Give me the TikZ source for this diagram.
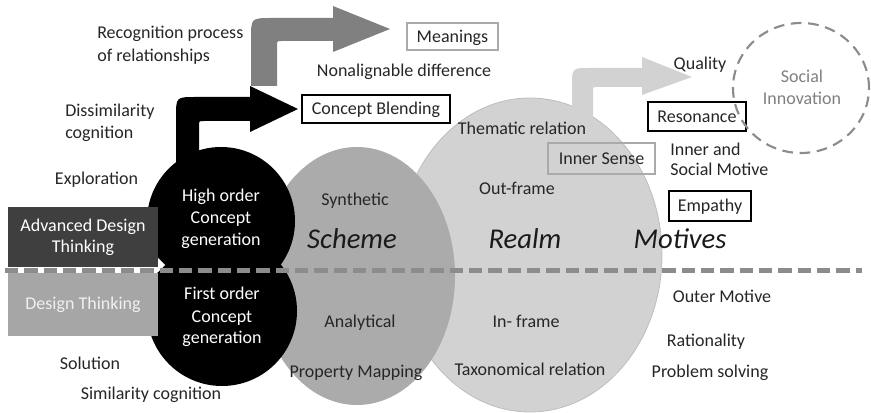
\documentclass[tikz,border=0pt]{standalone}
\usepackage{fontspec}
\setmainfont{Carlito}
\definecolor{txt}{HTML}{262626}
\definecolor{txtdark}{HTML}{1A1A1A}
\definecolor{realmfill}{HTML}{D2D2D2}
\definecolor{realmedge}{HTML}{BDBDBD}
\definecolor{schemefill}{HTML}{ABABAB}
\definecolor{arrgray}{HTML}{808080}
\definecolor{advbox}{HTML}{3F3F3F}
\definecolor{dtbox}{HTML}{A6A6A6}
\definecolor{dtext}{HTML}{F0F0F0}
\definecolor{dashgray}{HTML}{8C8C8C}
\definecolor{lightedge}{HTML}{AAAAAA}
\definecolor{socialtxt}{HTML}{7F7F7F}
\begin{document}
\begin{tikzpicture}[x=0.75pt,y=-0.75pt,
  lbl/.style={font=\fontsize{13.5}{16.5}\selectfont, text=txt, inner sep=0pt, anchor=base},
  bigword/.style={font=\fontsize{21.5}{24}\selectfont\itshape, text=txtdark, inner sep=0pt, anchor=base},
  circtext/.style={lbl, text=white, align=center, font=\fontsize{13.5}{16.5}\selectfont},
  tagbox/.style={draw=black, line width=0.9pt, inner sep=0pt, text=txt,
    font=\fontsize{13.5}{16.5}\selectfont, text height=11pt, text depth=2pt},
  softbox/.style={tagbox, draw=lightedge, line width=0.8pt},
  levelbox/.style={inner sep=0pt, minimum width=112.5pt, align=center,
    font=\fontsize{13.5}{16.5}\selectfont},
  levelline/.style={draw=dashgray, line width=3.75pt, dash pattern=on 10pt off 4.5pt},
  ring/.style={draw=dashgray, line width=1.6pt, dash pattern=on 8pt off 5pt}
]
\useasboundingbox (0,0) rectangle (871,413);

% Realm ellipse and the light arrow leaving it
\fill[realmfill, draw=realmedge, line width=0.6pt] (530,255) ellipse [x radius=99pt, y radius=117.75pt];
\fill[realmfill] (572,150) -- (572,86) .. controls (572,68) .. (590,68) -- (642,68) -- (642,57)
  -- (692,77) -- (642,95) -- (642,87) -- (597,87) .. controls (593,87) .. (593,91) -- (593,150) -- cycle;

% Scheme ellipse
\fill[schemefill] (357,276) ellipse [x radius=73.5pt, y radius=96.75pt];

% Concept generation circles
\fill[black] (221,221) circle [radius=55.5pt];
\fill[black] (222,311) circle [radius=56.25pt];

% Bent arrows
\fill[black] (176,165) -- (176,117) .. controls (176,97) .. (196,97) -- (250,97) -- (250,86)
  -- (298,109) -- (250,132) -- (250,121) -- (204,121) .. controls (199,121) .. (199,126) -- (199,165) -- cycle;
\fill[arrgray] (251,86) -- (251,39) .. controls (251,18) .. (272,18) -- (333,18) -- (333,6)
  -- (390,29) -- (333,52) -- (333,41) -- (282,41) .. controls (277,41) .. (277,46) -- (277,86) -- cycle;

% Level boxes
\node[levelbox, fill=advbox, text=white, minimum height=45pt] (adt) at (83,237.5)
  {Advanced Design\\[-1pt]Thinking};
\node[levelbox, fill=dtbox, text=dtext, minimum height=47.25pt] (dt) at (83,304.5) {Design Thinking};
\fill[white] (158,258) -- (165,265) -- (158,272) -- cycle;

% Level separator
\coordinate (sepL) at (5,271);
\coordinate (sepR) at (862,271);
\draw[levelline] (sepL) -- (sepR);

% Boxed terms
\node[softbox, minimum width=68.25pt, minimum height=20.25pt] (meanings) at (452.5,36.5) {Meanings};
\node[tagbox, minimum width=111pt, minimum height=21pt] (blend) at (376,109) {Concept Blending};
\node[softbox, minimum width=80.25pt, minimum height=23.25pt] (inner) at (601.5,158.5) {Inner Sense};
\node[tagbox, minimum width=73.5pt, minimum height=21.75pt] (reson) at (697,116.5) {Resonance};
\node[tagbox, minimum width=61.5pt, minimum height=22.5pt] (empathy) at (710,206) {Empathy};

% Social innovation ring
\draw[ring] (801,88) ellipse [x radius=51pt, y radius=48.75pt];
\node[lbl, text=socialtxt] (social) at (802,83) {Social};
\node[lbl, text=socialtxt] (innov) at (802,105) {Innovation};

% Circle captions
\node[circtext] (ho1) at (221,202) {High order};
\node[circtext] (ho2) at (221,224) {Concept};
\node[circtext] (ho3) at (221,246) {generation};
\node[circtext] (fo1) at (222,300) {First order};
\node[circtext] (fo2) at (222,322) {Concept};
\node[circtext] (fo3) at (222,344) {generation};

% Free labels
\node[lbl, anchor=base west] (rec1) at (97,39) {Recognition process};
\node[lbl, anchor=base west] (rec2) at (97,62) {of relationships};
\node[lbl] (nonalign) at (404,77) {Nonalignable difference};
\node[lbl, anchor=base west] (dis1) at (65,117) {Dissimilarity};
\node[lbl, anchor=base west] (dis2) at (65,139) {cognition};
\node[lbl] (explor) at (96.5,185) {Exploration};
\node[lbl] (synth) at (355,206) {Synthetic};
\node[lbl] (analyt) at (360,327) {Analytical};
\node[lbl] (propmap) at (356,378) {Property Mapping};
\node[lbl] (thematic) at (522,135) {Thematic relation};
\node[lbl] (outframe) at (517,195) {Out-frame};
\node[lbl] (inframe) at (526,327) {In- frame};
\node[lbl] (taxo) at (530,375) {Taxonomical relation};
\node[lbl] (quality) at (700,70) {Quality};
\node[lbl, anchor=base west] (innsoc1) at (670,156) {Inner and};
\node[lbl, anchor=base west] (innsoc2) at (670,176) {Social Motive};
\node[lbl] (outer) at (722,303) {Outer Motive};
\node[lbl] (ration) at (706,346) {Rationality};
\node[lbl] (probsolv) at (710,377) {Problem solving};
\node[lbl] (solution) at (90,369) {Solution};
\node[lbl] (simcog) at (151,399) {Similarity cognition};

% Headings of the three regions
\node[bigword] (scheme) at (352,249) {Scheme};
\node[bigword] (realm) at (525,249) {Realm};
\node[bigword] (motives) at (680,249) {Motives};
\end{tikzpicture}
\end{document}
